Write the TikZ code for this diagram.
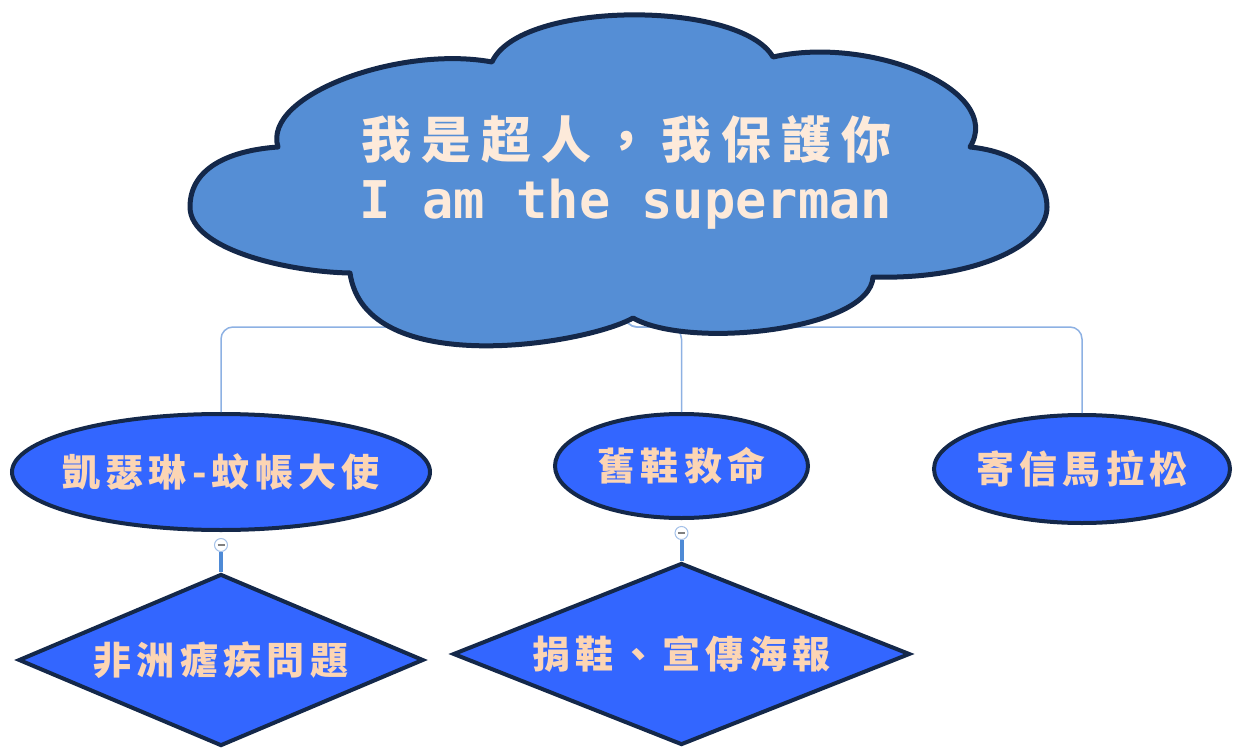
\documentclass[tikz,border=0pt]{standalone}
\usepackage{fontspec}
\usetikzlibrary{shapes.geometric}
\newfontfamily\cjk{Noto Sans CJK TC}
\newfontfamily\latmono{DejaVu Sans Mono}
\definecolor{cloudfill}{HTML}{558ED5}
\definecolor{navy}{HTML}{14284A}
\definecolor{nodefill}{HTML}{3366FF}
\definecolor{conncol}{HTML}{8DB1E3}
\definecolor{stemcol}{HTML}{4E8AD6}
\definecolor{titletext}{HTML}{FDEADA}
\definecolor{nodetext}{HTML}{FCD5B4}
\begin{document}
\begin{tikzpicture}[x=1pt,y=-1pt,
  ellnode/.style={ellipse,draw=navy,line width=4pt,fill=nodefill,inner sep=0pt},
  dianode/.style={diamond,draw=navy,line width=4pt,fill=nodefill,inner sep=0pt},
  lbl/.style={inner sep=0pt,text=nodetext,
    font=\cjk\bfseries\fontsize{38}{42}\selectfont\addfontfeature{LetterSpace=14}},
  conn/.style={draw=conncol,line width=1.5pt,rounded corners=12pt},
  stem/.style={draw=stemcol,line width=4pt},
  marker/.style={circle,draw=conncol!80,fill=white,line width=1pt,minimum size=13pt,inner sep=0pt},
  cloudline/.style={draw=navy,line width=5pt,fill=cloudfill,line join=round}]
\useasboundingbox (0,0) rectangle (1234,749);

% main topic nodes
\node[ellnode,minimum width=418pt,minimum height=116pt] (e1) at (221,472) {};
\node[ellnode,minimum width=253pt,minimum height=104pt] (e2) at (681.5,466) {};
\node[ellnode,minimum width=296pt,minimum height=108pt] (e3) at (1082,469) {};
\node[lbl] (e1t) at (e1.center) {凱瑟琳-蚊帳大使};
\node[lbl] (e2t) at (e2.center) {舊鞋救命};
\node[lbl] (e3t) at (e3.center) {寄信馬拉松};

% sub topic diamonds
\node[dianode,minimum width=405pt,minimum height=172pt,aspect=2.35] (d1) at (221,660) {};
\node[dianode,minimum width=457pt,minimum height=182pt,aspect=2.5] (d2) at (681.5,654) {};
\node[lbl] (d1t) at (d1.center) {非洲瘧疾問題};
\node[lbl] (d2t) at (d2.center) {捐鞋、宣傳海報};

% collapse markers
\node[marker] (m1) at (221,545) {};
\node[marker] (m2) at (681.5,533) {};
\draw[stem] (m1.south) -- (d1.north);
\draw[stem] (m2.south) -- (d2.north);
\draw[gray,line width=1.2pt] ([xshift=-3.5pt]m1.center) -- ([xshift=3.5pt]m1.center);
\draw[gray,line width=1.2pt] ([xshift=-3.5pt]m2.center) -- ([xshift=3.5pt]m2.center);

% connectors (behind the cloud)
\coordinate (c0) at (625,180);
\coordinate (hub) at (625,327);
\draw[conn] (c0) -- (hub) -| (e1.north);
\draw[conn] (c0) -- (hub) -| (e2.north);
\draw[conn] (c0) -- (hub) -| (e3.north);

% central cloud
\draw[cloudline] (350,273)
  .. controls (290,272) and (190,250) .. (190,207)
  .. controls (190,165) and (235,150) .. (278,147)
  .. controls (262,95) and (400,45) .. (492,62)
  .. controls (520,0) and (740,0) .. (773,57)
  .. controls (870,35) and (1005,90) .. (970,147)
  .. controls (1020,152) and (1047,178) .. (1047,207)
  .. controls (1047,245) and (975,280) .. (873,277)
  .. controls (870,330) and (690,350) .. (633,318)
  .. controls (585,345) and (365,380) .. (350,273) -- cycle;

\node[text=titletext,font=\cjk\bfseries\fontsize{50}{55}\selectfont\addfontfeature{LetterSpace=20},inner sep=0pt] (t1) at (626,139) {我是超人，我保護你};
\node[text=titletext,font=\latmono\bfseries\fontsize{52}{56}\selectfont,inner sep=0pt,anchor=base] (t2) at (626,218) {I am the superman};
\end{tikzpicture}
\end{document}
